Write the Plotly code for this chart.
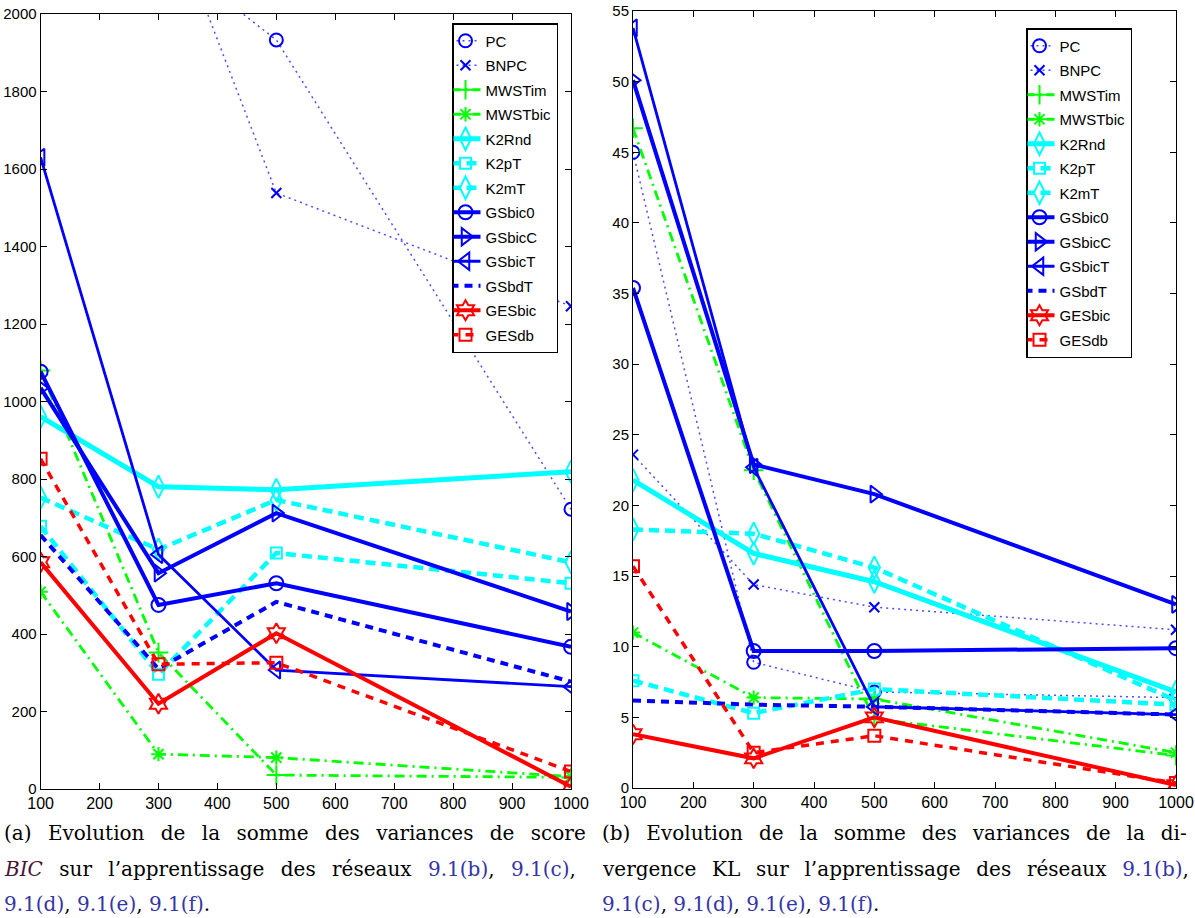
import plotly.graph_objects as go

# ---------------- data ----------------
sizes = [100, 300, 500, 1000]
series_names = ["PC", "BNPC", "MWSTim", "MWSTbic", "K2Rnd", "K2pT", "K2mT",
                "GSbic0", "GSbicC", "GSbicT", "GSbdT", "GESbic", "GESdb"]

# (a) sum of BIC score variances
PC_bic = [None, 2170, 1933, 722]
BNPC_bic = [None, 2330, 1538, 1246]
MWSTim_bic = [1080, 352, 36, 30]
MWSTbic_bic = [509, 90, 81, 32]
K2Rnd_bic = [961, 780, 772, 819]
K2pT_bic = [678, 296, 609, 531]
K2mT_bic = [752, 618, 746, 585]
GSbic0_bic = [1077, 475, 531, 367]
GSbicC_bic = [1035, 557, 712, 458]
GSbicT_bic = [1630, 605, 307, 264]
GSbdT_bic = [655, 310, 483, 277]
GESbic_bic = [585, 220, 402, 6]
GESdb_bic = [852, 322, 326, 45]

# (b) sum of KL divergence variances
PC_kl = [45.0, 8.9, 6.8, 6.4]
BNPC_kl = [23.6, 14.4, 12.8, 11.2]
MWSTim_kl = [46.7, 22.5, 4.9, 2.3]
MWSTbic_kl = [11.0, 6.4, 6.3, 2.5]
K2Rnd_kl = [21.8, 16.6, 14.6, 6.8]
K2pT_kl = [7.6, 5.3, 7.0, 5.9]
K2mT_kl = [18.3, 18.0, 15.6, 6.2]
GSbic0_kl = [35.4, 9.7, 9.7, 9.9]
GSbicC_kl = [50.1, 22.9, 20.8, 13.0]
GSbicT_kl = [53.8, 22.7, 5.75, 5.2]
GSbdT_kl = [6.2, 5.9, 5.75, 5.2]
GESbic_kl = [3.8, 2.1, 5.0, 0.2]
GESdb_kl = [15.7, 2.5, 3.7, 0.35]

bic_values = [PC_bic, BNPC_bic, MWSTim_bic, MWSTbic_bic, K2Rnd_bic, K2pT_bic, K2mT_bic,
              GSbic0_bic, GSbicC_bic, GSbicT_bic, GSbdT_bic, GESbic_bic, GESdb_bic]
kl_values = [PC_kl, BNPC_kl, MWSTim_kl, MWSTbic_kl, K2Rnd_kl, K2pT_kl, K2mT_kl,
             GSbic0_kl, GSbicC_kl, GSbicT_kl, GSbdT_kl, GESbic_kl, GESdb_kl]

bic_ticks = list(range(0, 2001, 200))
kl_ticks = list(range(0, 56, 5))
x_ticks = list(range(100, 1001, 100))

# ---------------- styles ----------------
BLUE, GREEN, CYAN, RED = "#0000ff", "#00ff00", "#00ffff", "#ff0000"
DOT = "2px,4px"
DASHDOT = "10px,5px,2px,5px"
DASH = "10px,6px"
styles = {
    "PC":      dict(color=BLUE, lc="#4d4dff", dash=DOT, w=1.5, sym="circle-open", ms=13),
    "BNPC":    dict(color=BLUE, lc="#4d4dff", dash=DOT, w=1.5, sym="x-thin-open", ms=10),
    "MWSTim":  dict(color=GREEN, lc=GREEN, dash=DASHDOT, w=2.8, sym="cross-thin-open", ms=14),
    "MWSTbic": dict(color=GREEN, lc=GREEN, dash=DASHDOT, w=2.8, sym="asterisk-open", ms=12),
    "K2Rnd":   dict(color=CYAN, lc=CYAN, dash="solid", w=5, sym="diamond-tall-open", ms=16),
    "K2pT":    dict(color=CYAN, lc=CYAN, dash=DASH, w=4.5, sym="square-open", ms=11),
    "K2mT":    dict(color=CYAN, lc=CYAN, dash=DASH, w=4.5, sym="diamond-tall-open", ms=16),
    "GSbic0":  dict(color=BLUE, lc=BLUE, dash="solid", w=4, sym="circle-open", ms=14),
    "GSbicC":  dict(color=BLUE, lc=BLUE, dash="solid", w=4, sym="triangle-right-open", ms=15),
    "GSbicT":  dict(color=BLUE, lc=BLUE, dash="solid", w=2.8, sym="triangle-left-open", ms=15),
    "GSbdT":   dict(color=BLUE, lc=BLUE, dash="8px,6px", w=4, sym=None, ms=0),
    "GESbic":  dict(color=RED, lc=RED, dash="solid", w=4, sym="hexagram-open", ms=15),
    "GESdb":   dict(color=RED, lc=RED, dash="8px,7px", w=3.5, sym="square-open", ms=12),
}

fig = go.Figure()

def add_panel(values, xa, ya, leg, tag):
    for name, vals in zip(series_names, values):
        st = styles[name]
        mode = "lines+markers" if st["sym"] else "lines"
        marker = dict(symbol=st["sym"], size=st["ms"], color=st["color"],
                      line=dict(width=2, color=st["color"])) if st["sym"] else None
        fig.add_trace(go.Scatter(
            x=sizes, y=vals, name=name, mode=mode,
            line=dict(color=st["lc"], width=st["w"], dash=st["dash"]),
            marker=marker, xaxis=xa, yaxis=ya, legend=leg,
            legendgroup=name + tag, connectgaps=False,
        ))

add_panel(bic_values, "x", "y", "legend", "a")
add_panel(kl_values, "x2", "y2", "legend2", "b")

NARROW = "Liberation Sans Narrow, Liberation Sans, Arial"
axis_common = dict(showline=True, linecolor="black", linewidth=1, mirror="ticks",
                   ticks="inside", ticklen=6, tickcolor="black", showgrid=False,
                   zeroline=False, automargin=False)
xfont = dict(family=NARROW, size=16, color="black")
yfont = dict(family=NARROW, size=15, color="black")

W, H = 1195, 918
def px(xp):
    return xp / W
def py(yp):
    return 1 - yp / H

legend_common = dict(xanchor="left", yanchor="top", bordercolor="black", borderwidth=1.5,
                     bgcolor="white", font=dict(family=NARROW, size=15, color="black"),
                     tracegroupgap=2, itemwidth=30, indentation=-8)

fig.update_layout(
    template="none",
    width=W, height=H,
    margin=dict(l=0, r=0, t=0, b=0, pad=0, autoexpand=False),
    paper_bgcolor="white", plot_bgcolor="white",
    xaxis=dict(domain=[px(40.6), px(571)], range=[100, 1000], tickvals=x_ticks, anchor="y",
               tickfont=xfont, **axis_common),
    yaxis=dict(domain=[py(789), py(14)], range=[0, 2000], tickvals=bic_ticks, anchor="x",
               tickfont=yfont, **axis_common),
    xaxis2=dict(domain=[px(633), px(1176)], range=[100, 1000], tickvals=x_ticks, anchor="y2",
                tickfont=xfont, **axis_common),
    yaxis2=dict(domain=[py(788), py(11)], range=[0, 55], tickvals=kl_ticks, anchor="x2",
                tickfont=yfont, **axis_common),
    legend=dict(x=px(452), y=py(23), **legend_common),
    legend2=dict(x=px(1026), y=py(28), **legend_common),
    showlegend=True,
)

REF = "#3535a5"
BICC = "#4b1238"
def ref(t):
    return f"<span style='color:{REF}'>{t}</span>"

# caption lines: (x start, y centre, extra word spacing in px, text)
captions = [
    (4, 833, 10, "(a) Evolution de la somme des variances de score"),
    (4, 869, 10, f"<span style='color:{BICC}'><i>BIC</i></span> sur l’apprentissage des réseaux {ref('9.1(b)')}, {ref('9.1(c)')},"),
    (4, 904, 0, f"{ref('9.1(d)')}, {ref('9.1(e)')}, {ref('9.1(f)')}."),
    (602, 833, 9.6, "(b) Evolution de la somme des variances de la di-"),
    (602, 869, 9.4, f"vergence KL sur l’apprentissage des réseaux {ref('9.1(b)')},"),
    (602, 904, 0, f"{ref('9.1(c)')}, {ref('9.1(d)')}, {ref('9.1(e)')}, {ref('9.1(f)')}."),
]
for xp, yp, ws, txt in captions:
    if ws:
        txt = f"<span style='word-spacing:{ws}px'>{txt}</span>"
    fig.add_annotation(x=px(xp), y=py(yp), xref="paper", yref="paper",
                       xanchor="left", yanchor="middle", showarrow=False, text=txt,
                       borderpad=0, borderwidth=0,
                       font=dict(family="DejaVu Serif", size=20, color="black"))

fig.write_html("out.html")
